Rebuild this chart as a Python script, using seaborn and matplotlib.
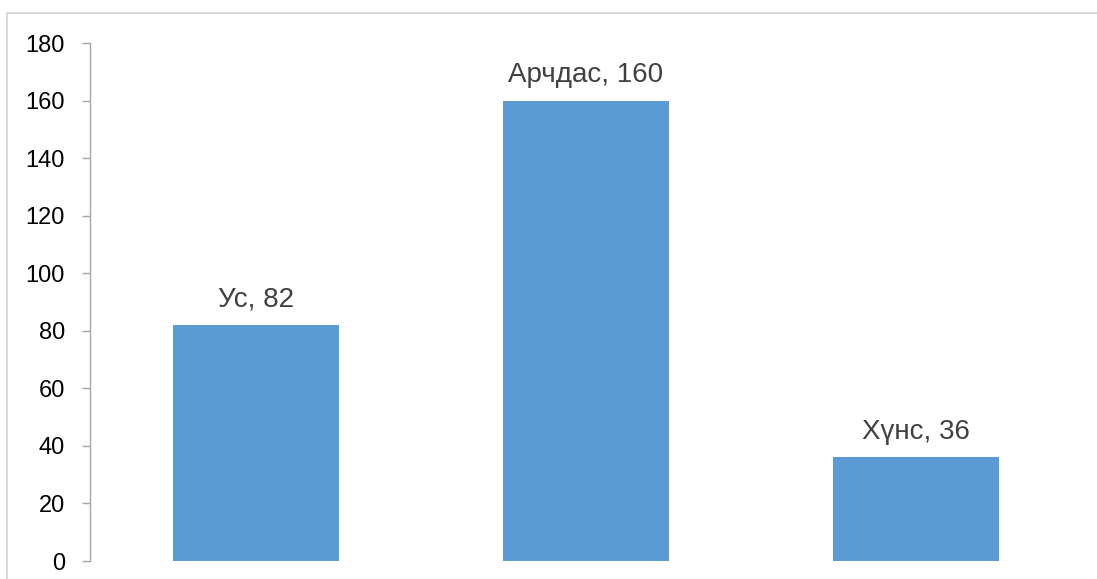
import seaborn as sns
import matplotlib.pyplot as plt
import matplotlib.patches as mpatches
import pandas as pd

# chart data
categories = ["Ус", "Арчдас", "Хүнс"]
values = [82, 160, 36]
yticks = [0, 20, 40, 60, 80, 100, 120, 140, 160, 180]

df = pd.DataFrame({"category": categories, "value": values})

sns.set_style("white")
plt.rcParams["font.family"] = ["Liberation Sans", "DejaVu Sans"]

fig = plt.figure(figsize=(10.97, 5.79), dpi=100)
ax = fig.add_axes([90 / 1097, 18 / 579, 991 / 1097, 518 / 579])

sns.barplot(data=df, x="category", y="value", color="#5B9BD5",
            width=0.503, saturation=1, linewidth=0, ax=ax)

# data labels: "name, value"
for i, (cat, val) in enumerate(zip(categories, values)):
    ax.annotate(f"{cat}, {val}", (i, val), xytext=(0, 13),
                textcoords="offset points", ha="center", va="baseline",
                fontsize=20, color="#404040")

ax.set_xlim(-0.503, 2.5)
ax.set_ylim(0, 180)
ax.set_yticks(yticks)
ax.set_xticks([])
ax.set_xlabel("")
ax.set_ylabel("")
ax.tick_params(axis="y", left=True, length=6, width=1, color="#a6a6a6",
               pad=12, labelsize=17, labelcolor="black")

for side in ["top", "right", "bottom"]:
    ax.spines[side].set_visible(False)
ax.spines["left"].set_color("#a6a6a6")
ax.spines["left"].set_linewidth(1)

# light chart-area border
fig.patches.append(mpatches.Rectangle((7 / 1097, -0.1), 1.2, 1.1 - 13 / 579,
                                      transform=fig.transFigure, fill=False,
                                      edgecolor="#d9d9d9", linewidth=1.5))

fig.savefig("out.png", dpi=100)
